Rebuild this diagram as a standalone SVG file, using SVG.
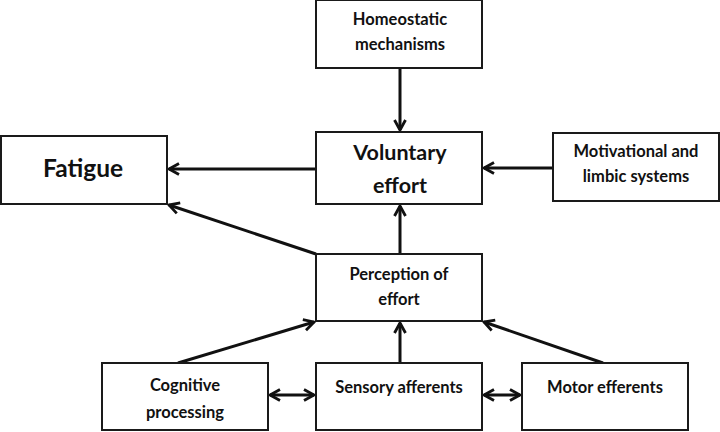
<svg xmlns="http://www.w3.org/2000/svg" width="720" height="432" viewBox="0 0 720 432">
<defs>
<style>
.box{fill:#fff;stroke:#1a1a1a;stroke-width:2}
.t{font-family:Lato,"Open Sans","Liberation Sans",sans-serif;font-weight:bold;fill:#111;text-anchor:middle;font-size:16.5px}
.big{font-size:21.5px}
.huge{font-size:24.5px}
.c{stroke:#111;stroke-width:3;fill:none}
</style>
<marker id="ah" markerUnits="userSpaceOnUse" markerWidth="16" markerHeight="16" viewBox="0 0 16 16" refX="13" refY="8" orient="auto-start-reverse">
<path d="M3,2.5 L13,8 L3,13.5" fill="none" stroke="#111" stroke-width="2.8" stroke-linejoin="miter"/>
</marker>
</defs>
<rect width="720" height="432" fill="#fff"/>
<g id="connectors">
<line class="c" x1="400" y1="68" x2="400" y2="130" marker-end="url(#ah)"/>
<line class="c" x1="316" y1="169" x2="169" y2="169" marker-end="url(#ah)"/>
<line class="c" x1="553" y1="168" x2="484" y2="168" marker-end="url(#ah)"/>
<line class="c" x1="400" y1="254" x2="400" y2="206" marker-end="url(#ah)"/>
<line class="c" x1="316" y1="254" x2="169" y2="205" marker-end="url(#ah)"/>
<line class="c" x1="178" y1="363" x2="314" y2="322" marker-end="url(#ah)"/>
<line class="c" x1="400" y1="363" x2="400" y2="323" marker-end="url(#ah)"/>
<line class="c" x1="603" y1="363" x2="484" y2="322" marker-end="url(#ah)"/>
<line class="c" x1="270" y1="395" x2="314" y2="395" marker-start="url(#ah)" marker-end="url(#ah)"/>
<line class="c" x1="484" y1="395" x2="520" y2="395" marker-start="url(#ah)" marker-end="url(#ah)"/>
</g>
<g id="homeostatic">
<rect class="box" x="316" y="0" width="166" height="68"/>
<text class="t" x="400" y="25">Homeostatic</text>
<text class="t" x="400" y="50">mechanisms</text>
</g>
<g id="voluntary">
<rect class="box" x="316" y="132" width="166" height="72"/>
<text class="t big" x="400" y="160">Voluntary</text>
<text class="t big" x="400" y="193">effort</text>
</g>
<g id="fatigue">
<rect class="box" x="1" y="136" width="166" height="68"/>
<text class="t huge" x="83" y="177">Fatigue</text>
</g>
<g id="motivational">
<rect class="box" x="553" y="133" width="166" height="68"/>
<text class="t" x="636" y="157">Motivational and</text>
<text class="t" x="636" y="182">limbic systems</text>
</g>
<g id="perception">
<rect class="box" x="316" y="254" width="166" height="67"/>
<text class="t" x="399" y="280">Perception of</text>
<text class="t" x="399" y="305">effort</text>
</g>
<g id="cognitive">
<rect class="box" x="102" y="363" width="166" height="67"/>
<text class="t" x="185" y="391">Cognitive</text>
<text class="t" x="185" y="418">processing</text>
</g>
<g id="sensory">
<rect class="box" x="316" y="363" width="166" height="67"/>
<text class="t" x="399" y="393">Sensory afferents</text>
</g>
<g id="motor">
<rect class="box" x="522" y="363" width="166" height="67"/>
<text class="t" x="605" y="393">Motor efferents</text>
</g>
</svg>
